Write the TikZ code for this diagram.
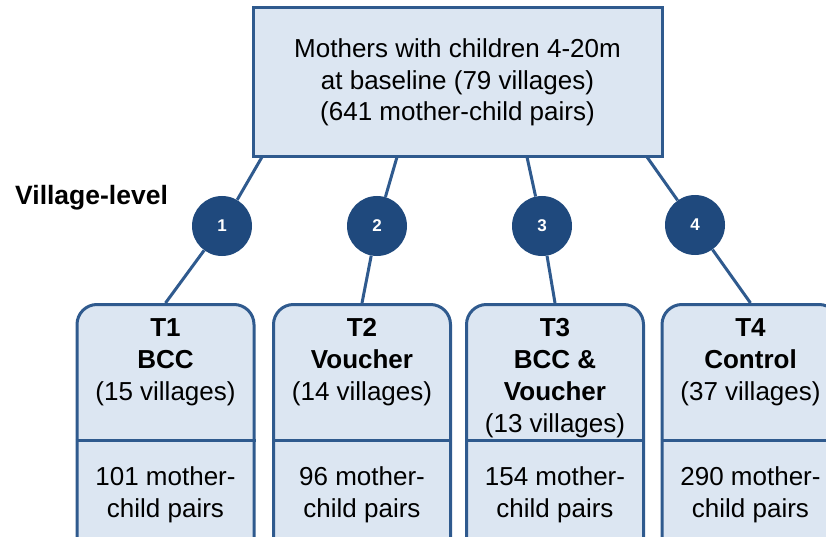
\documentclass[tikz,border=0pt]{standalone}
\usepackage{fontspec}
\setmainfont{Liberation Sans}
\definecolor{boxfill}{HTML}{DCE6F2}
\definecolor{boxline}{HTML}{2F5A8E}
\definecolor{dotfill}{HTML}{1F497D}
\begin{document}
\begin{tikzpicture}[x=1pt,y=-1pt,
    basebox/.style={draw=boxline,fill=boxfill,line width=3pt,minimum width=409pt,minimum height=149pt,align=center,font=\fontsize{26}{31.5}\selectfont},
    armbox/.style={draw=boxline,fill=boxfill,line width=3pt,rounded corners=20pt,minimum width=177pt,minimum height=320pt,anchor=north},
    armtext/.style={anchor=north,inner sep=0pt,align=center,font=\fontsize{26}{32}\selectfont},
    numdot/.style={circle,fill=dotfill,minimum size=60pt,inner sep=0pt,text=white,font=\fontsize{17}{17}\selectfont\bfseries},
    arm/.style={boxline,line width=3pt}]
    \useasboundingbox (0,0) rectangle (826,537);
    \clip (0,0) rectangle (826,537);

    \node[basebox] (base) at (457.5,82.5) {Mothers with children 4-20m\\at baseline (79 villages)\\(641 mother-child pairs)};
    \node[anchor=west,inner sep=0pt,font=\fontsize{26.5}{26.5}\selectfont\bfseries] (lvl) at (15,198) {Village-level};

    \node[numdot] (n1) at (222,226) {1};
    \node[numdot] (n2) at (377,226) {2};
    \node[numdot] (n3) at (542,226) {3};
    \node[numdot] (n4) at (695,225) {4};

    \node[armbox] (t1) at (165.5,303) {};
    \node[armbox] (t2) at (362,303) {};
    \node[armbox] (t3) at (555,303) {};
    \node[armbox] (t4) at (750.5,303) {};

    \coordinate (cut) at (0,440);
    \draw[arm] (t1.west |- cut) -- (t1.east |- cut);
    \draw[arm] (t2.west |- cut) -- (t2.east |- cut);
    \draw[arm] (t3.west |- cut) -- (t3.east |- cut);
    \draw[arm] (t4.west |- cut) -- (t4.east |- cut);

    \node[armtext] (h1) at (165.5,318.5) {\textbf{T1}\\\textbf{BCC}\\(15 villages)};
    \node[armtext] (h2) at (362,318.5) {\textbf{T2}\\\textbf{Voucher}\\(14 villages)};
    \node[armtext] (h3) at (555,318.5) {\textbf{T3}\\\textbf{BCC \&}\\\textbf{Voucher}\\(13 villages)};
    \node[armtext] (h4) at (750.5,318.5) {\textbf{T4}\\\textbf{Control}\\(37 villages)};

    \node[armtext] (p1) at (165.5,466) {101 mother-\\child pairs};
    \node[armtext] (p2) at (362,466) {96 mother-\\child pairs};
    \node[armtext] (p3) at (555,466) {154 mother-\\child pairs};
    \node[armtext] (p4) at (750.5,466) {290 mother-\\child pairs};

    % arms from the baseline box
    \coordinate (a1) at (262,157);
    \coordinate (a2) at (397,157);
    \coordinate (a3) at (527,157);
    \coordinate (a4) at (647,157);
    \draw[arm] (a1) -- (n1) -- (t1.north);
    \draw[arm] (a2) -- (n2) -- (t2.north);
    \draw[arm] (a3) -- (n3) -- (t3.north);
    \draw[arm] (a4) -- (n4) -- (t4.north);
\end{tikzpicture}
\end{document}
